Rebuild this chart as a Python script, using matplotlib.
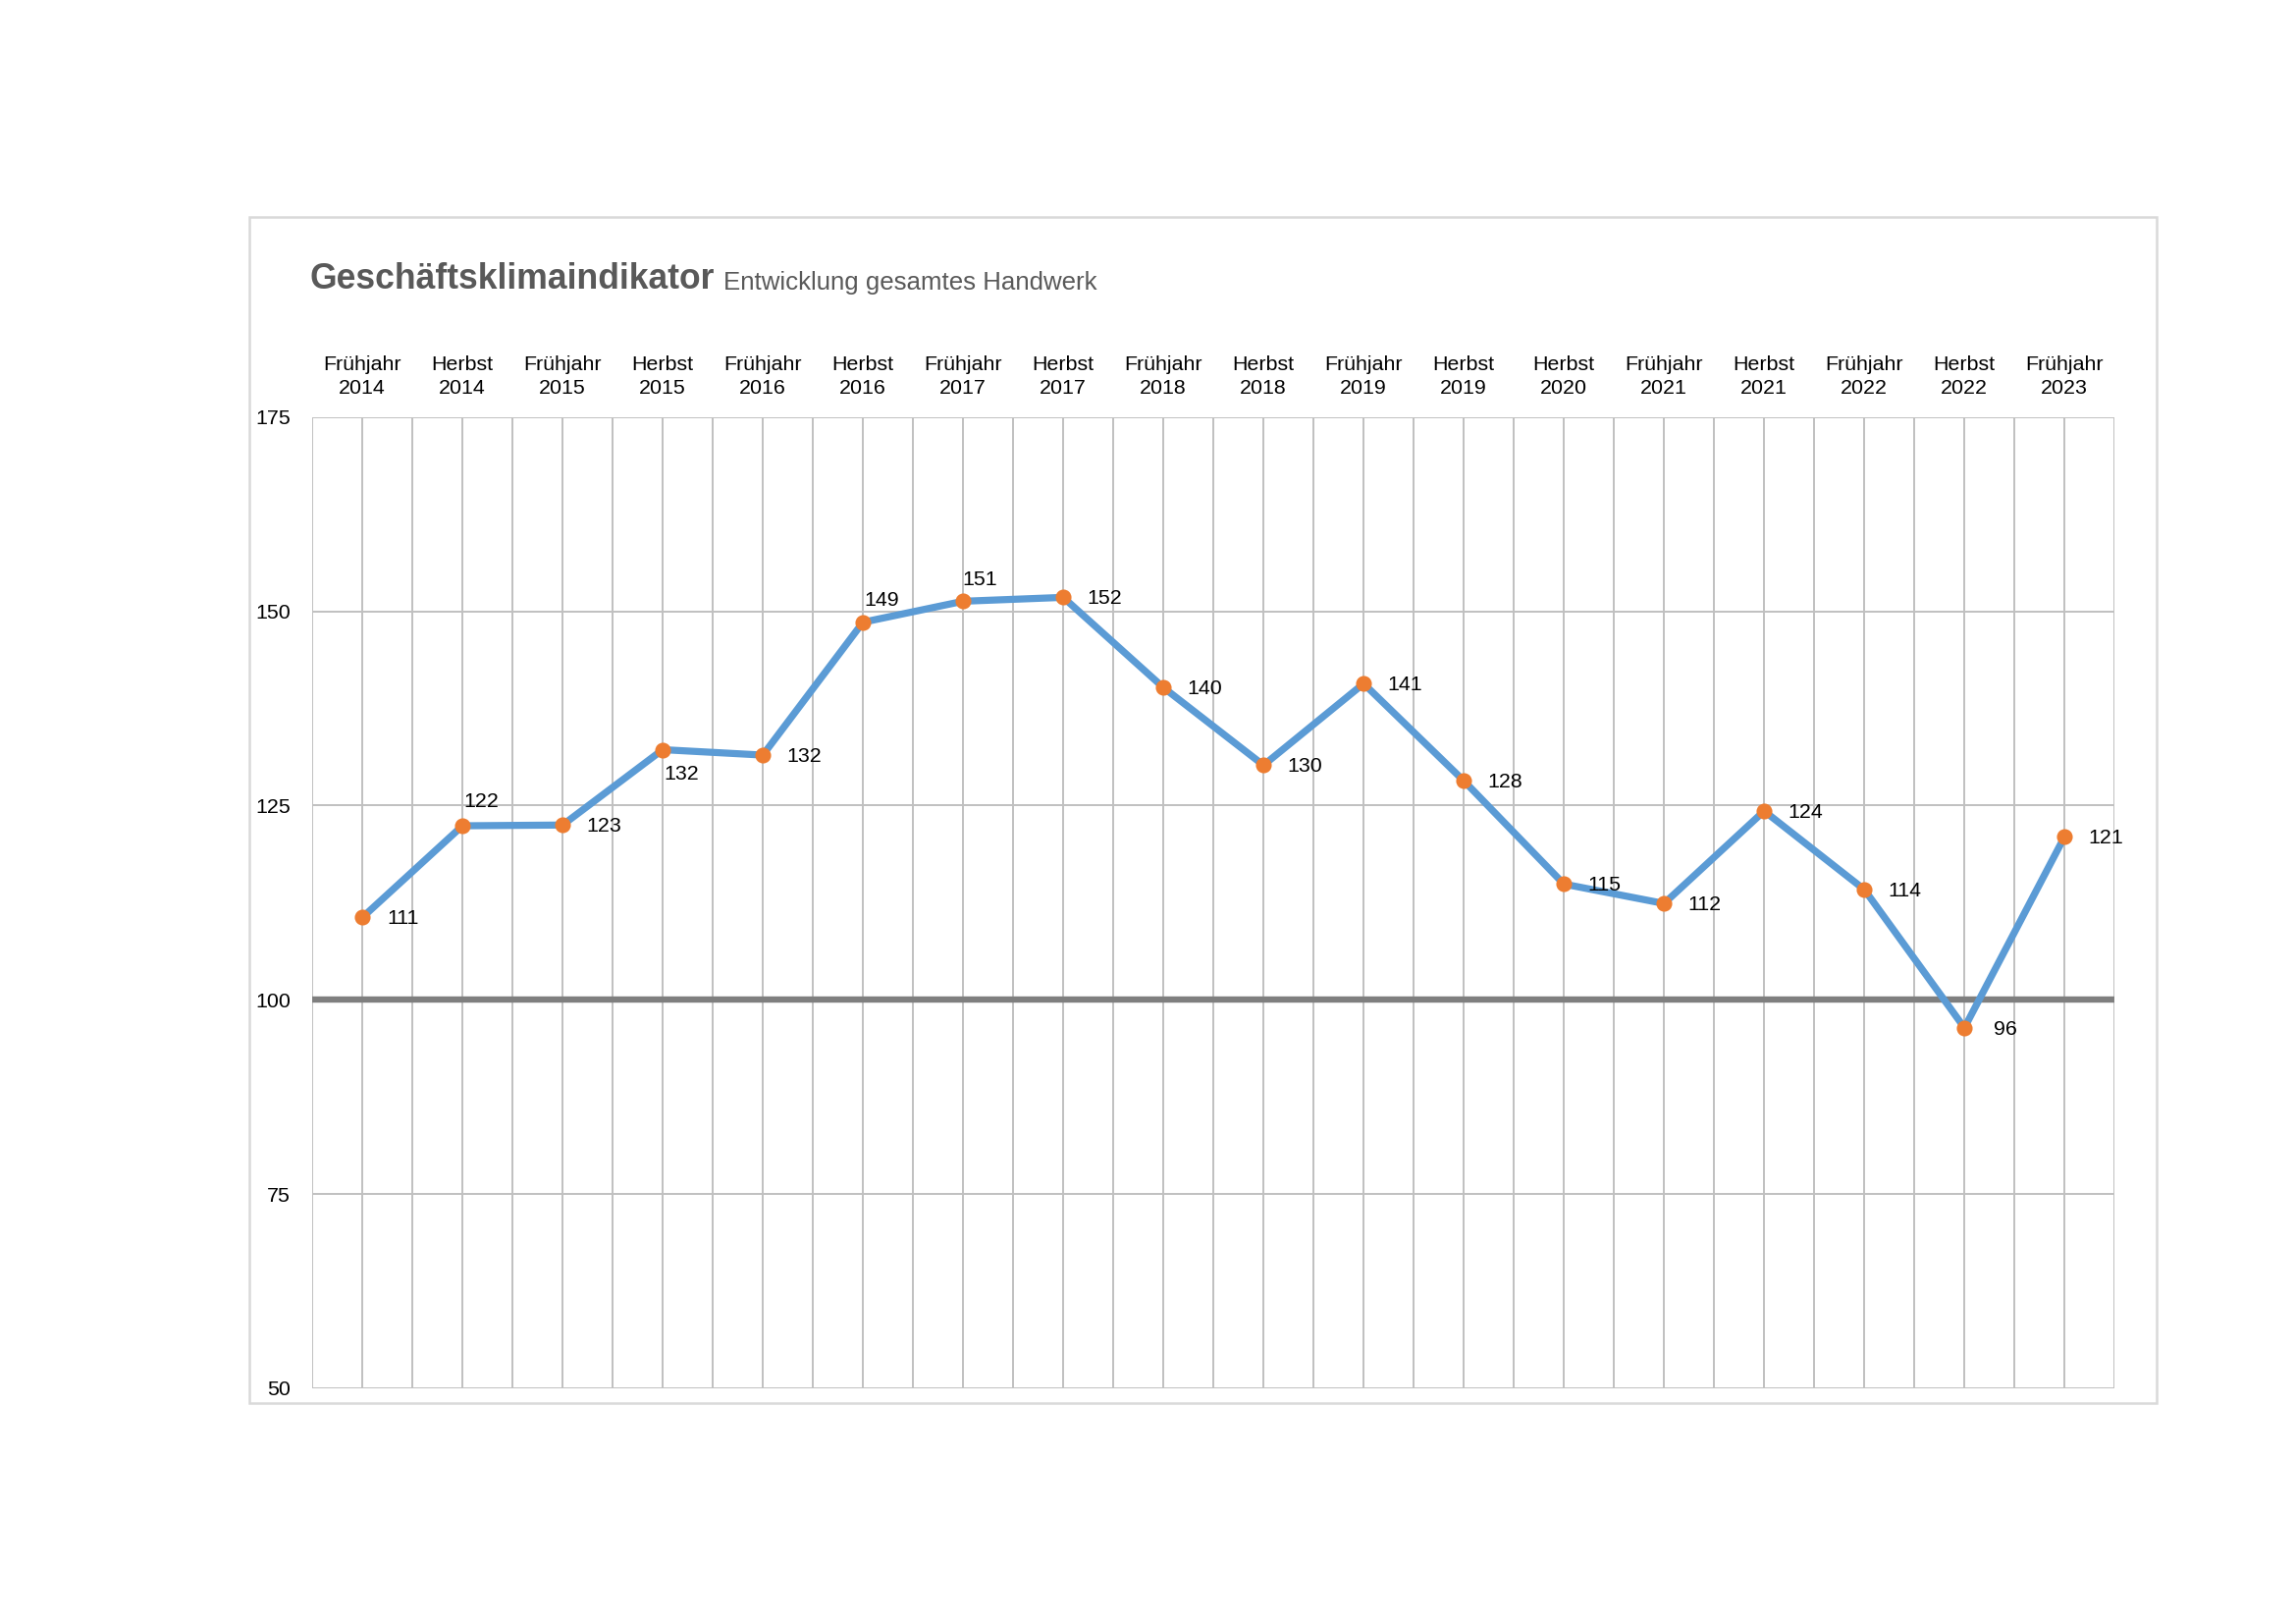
import numpy as np
import matplotlib
matplotlib.use("Agg")
from matplotlib import pyplot as plt
from matplotlib.patches import Rectangle

# Daten
kategorien = ["Frühjahr\n2014", "Herbst\n2014", "Frühjahr\n2015", "Herbst\n2015",
              "Frühjahr\n2016", "Herbst\n2016", "Frühjahr\n2017", "Herbst\n2017",
              "Frühjahr\n2018", "Herbst\n2018", "Frühjahr\n2019", "Herbst\n2019",
              "Herbst\n2020", "Frühjahr\n2021", "Herbst\n2021", "Frühjahr\n2022",
              "Herbst\n2022", "Frühjahr\n2023"]
werte = [110.6, 122.4, 122.5, 132.2, 131.5, 148.6, 151.3, 151.8, 140.2,
         130.2, 140.7, 128.2, 114.9, 112.4, 124.3, 114.2, 96.4, 121.0]
beschriftung = [111, 122, 123, 132, 132, 149, 151, 152, 140,
                130, 141, 128, 115, 112, 124, 114, 96, 121]
y_ticks = [50, 75, 100, 125, 150, 175]

plt.rcParams['font.family'] = ['Liberation Sans', 'DejaVu Sans']

fig = plt.figure(figsize=(2339 / 200, 1653 / 200), dpi=200)
# Rahmen um das Diagramm
fig.patches.append(Rectangle((0.1086, 0.1355), 0.8307, 0.7308, transform=fig.transFigure,
                             fill=False, edgecolor='#d9d9d9', linewidth=0.9))

ax = fig.add_axes([0.136, 0.1446, 0.785, 0.5984])
x = np.arange(len(werte))

ax.axhline(100, color='#7f7f7f', linewidth=2.3, zorder=2)
ax.plot(x, werte, color='#5b9bd5', linewidth=2.6, zorder=3,
        marker='o', markersize=4.8, markerfacecolor='#ed7d31', markeredgecolor='#ed7d31')

# Positionen der Datenbeschriftungen (Versatz in Punkten)
versatz = {1: (7, 9), 3: (7, -9), 5: (7, 8), 6: (6, 8)}
for i, (xi, yi) in enumerate(zip(x, werte)):
    dx, dy = versatz.get(i, (15, -0.5))
    ax.annotate(str(beschriftung[i]), (xi, yi), xytext=(dx, dy), textcoords='offset points',
                ha='center', va='center', fontsize=7.7, color='black', zorder=4)

ax.set_xlim(-0.5, len(werte) - 0.5)
ax.set_ylim(50, 175)
ax.set_yticks(y_ticks)
ax.set_xticks(x)
ax.set_xticks(np.arange(-0.5, len(werte), 1.0), minor=True)
ax.set_xticklabels(kategorien, fontsize=7.7, linespacing=1.35)
ax.xaxis.tick_top()
ax.tick_params(axis='x', which='both', length=0, pad=7)
ax.tick_params(axis='y', length=0, pad=8, labelsize=7.7)
ax.grid(True, which='both', color='#c0c0c0', linewidth=0.7, zorder=1)
ax.set_axisbelow(True)
for s in ax.spines.values():
    s.set_visible(False)

fig.text(0.1347, 0.828, "Geschäftsklimaindikator", fontsize=12.8, fontweight='bold',
         color='#595959', va='center')
fig.text(0.3151, 0.826, "Entwicklung gesamtes Handwerk", fontsize=9.3, color='#595959', va='center')

fig.savefig("out.png", dpi=200)
